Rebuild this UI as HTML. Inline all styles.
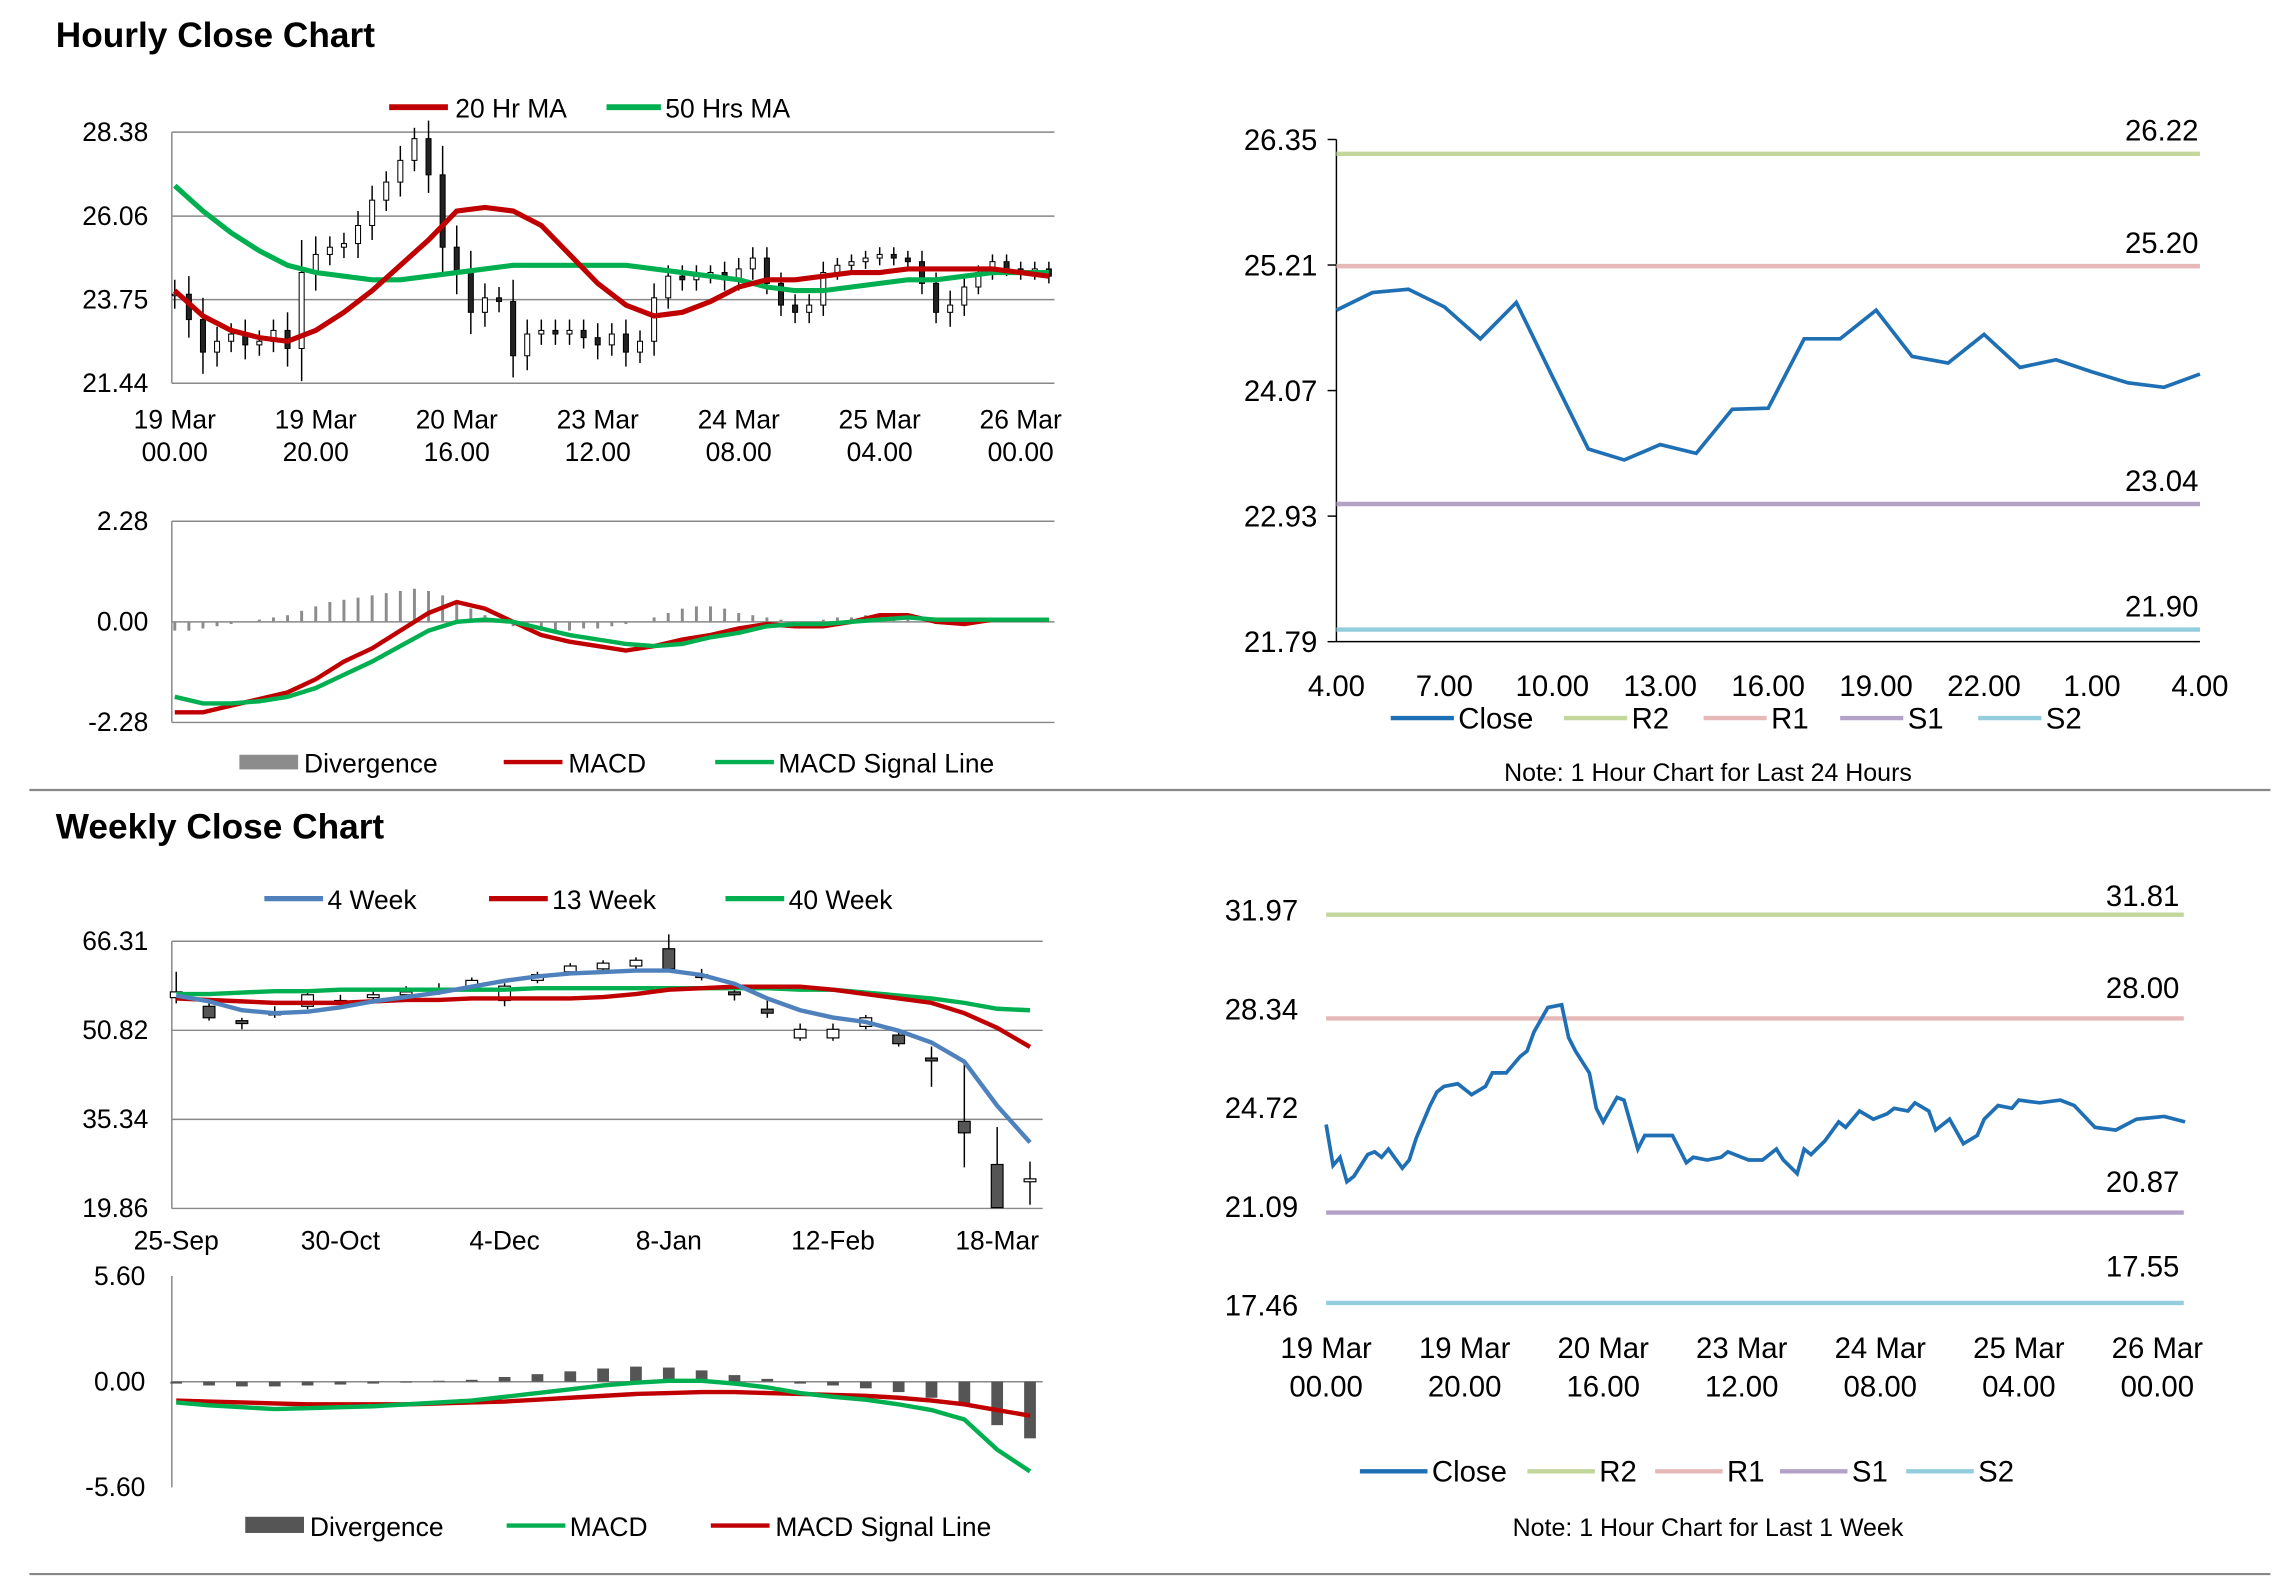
<!DOCTYPE html>
<html><head><meta charset="utf-8"><style>
html,body{margin:0;padding:0;background:#fff}
svg{display:block;font-family:"Liberation Sans",Arial,sans-serif}
text{fill:#000}
</style></head><body>
<svg id="c" width="2291" height="1577" viewBox="0 0 1560 1074" preserveAspectRatio="none">
<text x="38" y="32" font-size="24" font-weight="bold">Hourly Close Chart</text>
<text x="38" y="571" font-size="24" font-weight="bold">Weekly Close Chart</text>
<line x1="20" y1="538" x2="1546" y2="538" stroke="#888" stroke-width="1.5"/>
<line x1="20" y1="1072" x2="1546" y2="1072" stroke="#888" stroke-width="1.5"/>
<g font-size="18">
<line x1="265" y1="73" x2="305" y2="73" stroke="#c00000" stroke-width="4"/><text x="310" y="80">20 Hr MA</text>
<line x1="413" y1="73" x2="450" y2="73" stroke="#00b050" stroke-width="4"/><text x="453" y="80">50 Hrs MA</text>
<rect x="163" y="514" width="40" height="10" fill="#8c8c8c"/><text x="207" y="526">Divergence</text>
<line x1="343" y1="519" x2="383" y2="519" stroke="#c00000" stroke-width="3"/><text x="387" y="526">MACD</text>
<line x1="487" y1="519" x2="527" y2="519" stroke="#00b050" stroke-width="3"/><text x="530" y="526">MACD Signal Line</text>
<line x1="180" y1="612" x2="220" y2="612" stroke="#4f81bd" stroke-width="3.5"/><text x="223" y="619">4 Week</text>
<line x1="333" y1="612" x2="373" y2="612" stroke="#c00000" stroke-width="3.5"/><text x="376" y="619">13 Week</text>
<line x1="494" y1="612" x2="534" y2="612" stroke="#00b050" stroke-width="3.5"/><text x="537" y="619">40 Week</text>
<rect x="167" y="1033" width="40" height="11" fill="#555"/><text x="211" y="1046">Divergence</text>
<line x1="345" y1="1039" x2="385" y2="1039" stroke="#00b050" stroke-width="3"/><text x="388" y="1046">MACD</text>
<line x1="484" y1="1039" x2="524" y2="1039" stroke="#c00000" stroke-width="3"/><text x="528" y="1046">MACD Signal Line</text>
</g>
<g font-size="20">
<line x1="947" y1="489" x2="990" y2="489" stroke="#1f6fb4" stroke-width="3"/><text x="993" y="496">Close</text>
<line x1="1065" y1="489" x2="1108" y2="489" stroke="#c3d69b" stroke-width="3"/><text x="1111" y="496">R2</text>
<line x1="1160" y1="489" x2="1203" y2="489" stroke="#e6b9b8" stroke-width="3"/><text x="1206" y="496">R1</text>
<line x1="1253" y1="489" x2="1296" y2="489" stroke="#b3a2c7" stroke-width="3"/><text x="1299" y="496">S1</text>
<line x1="1347" y1="489" x2="1390" y2="489" stroke="#93cddd" stroke-width="3"/><text x="1393" y="496">S2</text>
<text x="1163" y="532" font-size="17" text-anchor="middle">Note: 1 Hour Chart for Last 24 Hours</text>
<line x1="926" y1="1002" x2="972" y2="1002" stroke="#1f6fb4" stroke-width="3"/><text x="975" y="1009">Close</text>
<line x1="1040" y1="1002" x2="1086" y2="1002" stroke="#c3d69b" stroke-width="3"/><text x="1089" y="1009">R2</text>
<line x1="1127" y1="1002" x2="1173" y2="1002" stroke="#e6b9b8" stroke-width="3"/><text x="1176" y="1009">R1</text>
<line x1="1212" y1="1002" x2="1258" y2="1002" stroke="#b3a2c7" stroke-width="3"/><text x="1261" y="1009">S1</text>
<line x1="1298" y1="1002" x2="1344" y2="1002" stroke="#93cddd" stroke-width="3"/><text x="1347" y="1009">S2</text>
<text x="1163" y="1046" font-size="17" text-anchor="middle">Note: 1 Hour Chart for Last 1 Week</text>
</g>
</svg>
<script>
// ---------- Hourly candle chart data (every 2 hours, hour 0..124) ----------
const hCloses=[23.9,23.2,22.3,22.6,22.8,22.5,22.6,22.9,22.4,24.5,25.0,25.2,25.3,25.8,26.5,27.0,27.6,28.2,27.2,25.2,24.5,23.4,23.8,23.7,22.2,22.8,22.9,22.8,22.9,22.7,22.5,22.8,22.3,22.6,23.8,24.4,24.3,24.4,24.5,24.3,24.6,24.9,24.2,23.6,23.4,23.6,24.5,24.7,24.8,24.9,25.0,24.9,24.8,24.2,23.4,23.6,24.1,24.5,24.8,24.6,24.5,24.6,24.4];
const hWicks=[0.4,0.5,0.6,0.4,0.3,0.4,0.3,0.3,0.5,0.9,0.5,0.3,0.3,0.4,0.4,0.3,0.4,0.3,0.5,0.8,0.6,0.6,0.4,0.3,0.6,0.4,0.3,0.3,0.3,0.3,0.4,0.3,0.4,0.3,0.4,0.3,0.3,0.3,0.2,0.3,0.3,0.3,0.3,0.3,0.3,0.3,0.3,0.2,0.2,0.2,0.2,0.2,0.2,0.3,0.3,0.4,0.3,0.2,0.2,0.2,0.2,0.2,0.2];
const hMaHours=[0,4,8,12,16,20,24,28,32,36,40,44,48,52,56,60,64,68,72,76,80,84,88,92,96,100,104,108,112,116,120,124];
const hMa20=[24.0,23.3,22.9,22.7,22.6,22.9,23.4,24.0,24.7,25.4,26.2,26.3,26.2,25.8,25.0,24.2,23.6,23.3,23.4,23.7,24.1,24.3,24.3,24.4,24.5,24.5,24.6,24.6,24.6,24.6,24.5,24.4];
const hMa50=[26.9,26.2,25.6,25.1,24.7,24.5,24.4,24.3,24.3,24.4,24.5,24.6,24.7,24.7,24.7,24.7,24.7,24.6,24.5,24.4,24.3,24.1,24.0,24.0,24.1,24.2,24.3,24.3,24.4,24.5,24.5,24.5];
const hYTicks=[28.38,26.06,23.75,21.44];
const hXTickHours=[0,20,40,60,80,100,120];
const hXTickLabels=[["19 Mar","00.00"],["19 Mar","20.00"],["20 Mar","16.00"],["23 Mar","12.00"],["24 Mar","08.00"],["25 Mar","04.00"],["26 Mar","00.00"]];
// hourly MACD
const hMacd=[-2.05,-2.05,-1.9,-1.75,-1.6,-1.3,-0.9,-0.6,-0.2,0.2,0.45,0.3,0.0,-0.3,-0.45,-0.55,-0.65,-0.55,-0.4,-0.3,-0.15,-0.05,-0.1,-0.1,0.0,0.15,0.15,0.0,-0.05,0.05,0.05,0.05];
const hSignal=[-1.7,-1.85,-1.85,-1.8,-1.7,-1.5,-1.2,-0.9,-0.55,-0.2,0.0,0.05,0.0,-0.15,-0.3,-0.4,-0.5,-0.55,-0.5,-0.35,-0.25,-0.1,-0.05,-0.05,0.0,0.05,0.1,0.05,0.05,0.05,0.05,0.05];
const hDiv=[-0.2,-0.2,-0.15,-0.1,-0.05,0,0.05,0.1,0.15,0.25,0.35,0.45,0.5,0.55,0.6,0.65,0.7,0.75,0.7,0.6,0.45,0.3,0.15,0.0,-0.1,-0.15,-0.2,-0.2,-0.2,-0.15,-0.15,-0.1,-0.05,0.0,0.1,0.2,0.3,0.35,0.35,0.3,0.2,0.15,0.1,0.05,-0.05,0,0.05,0.1,0.1,0.15,0.15,0.1,0.05,0.0,-0.05,-0.05,0,0,0,0,0,0,0];
const hMacdTicks=[2.28,0.00,-2.28];
// ---------- Last 24 hours ----------
const d24Close=[24.80,24.96,24.99,24.83,24.54,24.87,24.20,23.54,23.44,23.58,23.50,23.90,23.91,24.54,24.54,24.80,24.38,24.32,24.58,24.28,24.35,24.24,24.14,24.10,24.22];
const d24Ticks=["4.00","7.00","10.00","13.00","16.00","19.00","22.00","1.00","4.00"];
const d24YTicks=[26.35,25.21,24.07,22.93,21.79];
const d24Levels=[26.22,25.20,23.04,21.90];
// ---------- Weekly ----------
const wLabels=["25-Sep","30-Oct","4-Dec","8-Jan","12-Feb","18-Mar"];
const wLabelWeeks=[0,5,10,15,20,25];
const wOpen=[56.5,55,52.5,53.5,55,55.5,56.5,57,57.5,58.5,56,59.5,61,61.5,62,65,60.5,57.5,54.5,49.5,49.5,51.5,50,46,35,27.5,24.5];
const wClose=[57.5,53,52,54,57,56,57,57.5,58,59.5,58.5,60.5,62,62.5,63,61.5,60,57,53.8,51,51,53,48.5,45.5,33,20,25];
const wHigh=[61,56,53,55,57.5,57,58,58.5,59,60,59,61,62.5,63,63.5,67.5,61.5,59,56,52,52,53.5,51,48,45,34,28];
const wLow=[55.5,52.5,51,53,54.5,55,56,56.5,57,58,55,59,60.5,61,61.5,61,59.5,56,53,49,49,51,48,41,27,20,20.5];
const w4=[56.87,55.85,54.31,53.80,54.06,54.82,55.85,56.61,57.38,58.40,59.42,60.18,60.70,60.95,61.21,61.21,60.44,58.91,56.36,54.31,53.04,52.27,50.74,48.70,45.38,37.72,31.33];
const w13=[56.36,56.10,55.85,55.59,55.59,55.59,55.85,56.10,56.10,56.36,56.36,56.36,56.36,56.61,57.12,57.89,58.14,58.40,58.40,58.40,57.89,57.12,56.36,55.59,53.80,51.25,47.93];
const w40=[57.12,57.12,57.38,57.63,57.63,57.89,57.89,57.89,57.89,57.89,57.89,58.14,58.14,58.14,58.14,58.14,58.14,58.14,58.14,57.89,57.89,57.38,56.87,56.36,55.59,54.57,54.31];
const wYTicks=[66.31,50.82,35.34,19.86];
const wDiv=[-0.1,-0.2,-0.25,-0.25,-0.2,-0.15,-0.1,-0.05,0.05,0.1,0.25,0.4,0.55,0.7,0.8,0.75,0.6,0.35,0.15,-0.1,-0.2,-0.35,-0.55,-0.85,-1.2,-2.3,-3.0];
const wMacd=[-1.1,-1.25,-1.35,-1.45,-1.4,-1.35,-1.3,-1.2,-1.1,-1.0,-0.8,-0.6,-0.4,-0.2,-0.05,0.05,0.05,-0.1,-0.3,-0.6,-0.8,-0.95,-1.2,-1.5,-2.0,-3.6,-4.75];
const wSignal=[-1.0,-1.05,-1.1,-1.15,-1.2,-1.2,-1.2,-1.2,-1.15,-1.1,-1.05,-0.95,-0.85,-0.75,-0.65,-0.6,-0.55,-0.55,-0.6,-0.65,-0.7,-0.75,-0.85,-1.0,-1.2,-1.5,-1.8];
const wMacdTicks=[5.60,0.00,-5.60];
// ---------- Last 1 week ----------
const d1wHours=[0,1,2,3,4,6,7,8,9,11,12,13,15,16,17,19,21,23,24,26,28,29,30,32,34,35,36,38,39,40,42,43,45,46,48,50,52,53,55,57,58,60,61,63,65,66,68,69,70,72,74,75,77,79,81,82,84,85,87,88,90,92,94,95,97,99,100,103,106,108,111,114,117,121,124];
const d1wClose=[24.1,22.6,22.9,22.0,22.2,23.0,23.1,22.9,23.2,22.5,22.8,23.6,24.8,25.3,25.5,25.6,25.2,25.5,26.0,26.0,26.6,26.8,27.5,28.4,28.5,27.3,26.8,26.0,24.7,24.2,25.1,25.0,23.2,23.7,23.7,23.7,22.7,22.9,22.8,22.9,23.1,22.9,22.8,22.8,23.2,22.8,22.3,23.2,23.0,23.5,24.2,24.0,24.6,24.3,24.5,24.7,24.6,24.9,24.6,23.9,24.3,23.4,23.7,24.3,24.8,24.7,25.0,24.9,25.0,24.8,24.0,23.9,24.3,24.4,24.2];
const d1wYTicks=[31.97,28.34,24.72,21.09,17.46];
const d1wLevels=[31.81,28.00,20.87,17.55];
const d1wXTickHours=[0,20,40,60,80,100,120];
const levelColors=["#c3d69b","#e6b9b8","#b3a2c7","#93cddd"];

const svg=document.getElementById('c');
const NS='http://www.w3.org/2000/svg';
function mk(tag,attrs,parent){const e=document.createElementNS(NS,tag);for(const k in attrs)e.setAttribute(k,attrs[k]);(parent||svg).appendChild(e);return e;}
function lin(d0,d1,r0,r1){return v=>r0+(v-d0)*(r1-r0)/(d1-d0);}
function pathOf(xs,ys){return xs.map((x,i)=>(i?'L':'M')+x.toFixed(2)+','+ys[i].toFixed(2)).join('');}

// ===== Panel 1: hourly candles =====
{
const x=lin(0,120,119,695), y=lin(28.38,21.44,90,261);
const g=mk('g',{});


hYTicks.forEach(t=>{
  const l=mk('line',{x1:117,x2:718,y1:y(t),y2:y(t),stroke:'#888','stroke-width':1},g);
  
  
  const tx=mk('text',{x:101,y:y(t)+6,'text-anchor':'end','font-size':18},g);tx.textContent=t.toFixed(2);
  
  
});
mk('line',{x1:117,x2:117,y1:90,y2:261,stroke:'#888'},g);
hXTickHours.forEach((h,i)=>{
  const t1=mk('text',{x:x(h),y:292,'text-anchor':'middle','font-size':18},g);t1.textContent=hXTickLabels[i][0];
  
  
  const t2=mk('text',{x:x(h),y:314,'text-anchor':'middle','font-size':18},g);t2.textContent=hXTickLabels[i][1];
  
  
});
hCloses.forEach((c,i)=>{
  const o=i?hCloses[i-1]:c, cx=x(i*2);
  const hi=Math.max(o,c)+hWicks[i], lo=Math.min(o,c)-hWicks[i];
  const w=mk('line',{x1:cx,x2:cx,y1:y(hi),y2:y(lo),stroke:'#000','stroke-width':1},g);
  
  
  const top=y(Math.max(o,c)),bot=y(Math.min(o,c));
  const r=mk('rect',{x:cx-1.7,y:top,width:3.4,height:Math.max(1,bot-top),fill:c<o?'#222':'#fff',stroke:'#000','stroke-width':0.7},g);
  
  
});
const m50=mk('path',{d:pathOf(hMaHours.map(x),hMa50.map(y)),fill:'none',stroke:'#00b050','stroke-width':3.5},g);


const m20=mk('path',{d:pathOf(hMaHours.map(x),hMa20.map(y)),fill:'none',stroke:'#c00000','stroke-width':3.5},g);


}
// ===== Panel 1b: hourly MACD =====
{
const x=lin(0,120,119,695), y=lin(2.28,-2.28,355,492);
const g=mk('g',{});


hMacdTicks.forEach(t=>{
  const l=mk('line',{x1:117,x2:718,y1:y(t),y2:y(t),stroke:'#888','stroke-width':1},g);
  
  
  const tx=mk('text',{x:101,y:y(t)+6,'text-anchor':'end','font-size':18},g);tx.textContent=t.toFixed(2);
  
  
});
mk('line',{x1:117,x2:117,y1:355,y2:492,stroke:'#888'},g);
hDiv.forEach((d,i)=>{
  const b=mk('rect',{x:x(i*2)-1,y:Math.min(y(d),y(0)),width:2,height:Math.abs(y(d)-y(0)),fill:'#8c8c8c'},g);
  
  
});
const r=mk('path',{d:pathOf(hMaHours.map(x),hMacd.map(y)),fill:'none',stroke:'#c00000','stroke-width':3},g);


const s=mk('path',{d:pathOf(hMaHours.map(x),hSignal.map(y)),fill:'none',stroke:'#00b050','stroke-width':3},g);


}
// ===== Panel 2: last 24 hours =====
{
const x=lin(0,24,910,1498), y=lin(26.35,21.79,95,437);
const g=mk('g',{});


d24YTicks.forEach(t=>{
  const tx=mk('text',{x:897,y:y(t)+7,'text-anchor':'end','font-size':20},g);tx.textContent=t.toFixed(2);
  
  
  mk('line',{x1:904,x2:910,y1:y(t),y2:y(t),stroke:'#000'},g);
});
mk('line',{x1:910,x2:910,y1:95,y2:437,stroke:'#000'},g);
mk('line',{x1:910,x2:1498,y1:437,y2:437,stroke:'#000'},g);
d24Ticks.forEach((t,i)=>{
  const tx=mk('text',{x:x(i*3),y:474,'text-anchor':'middle','font-size':20},g);tx.textContent=t;
  
  
});
d24Levels.forEach((v,i)=>{
  const l=mk('line',{x1:910,x2:1498,y1:y(v),y2:y(v),stroke:levelColors[i],'stroke-width':3},g);
  
  
  const tx=mk('text',{x:1497,y:y(v)-9,'text-anchor':'end','font-size':20},g);tx.textContent=v.toFixed(2);
  
  
});
const p=mk('path',{d:pathOf(d24Close.map((_,i)=>x(i)),d24Close.map(y)),fill:'none',stroke:'#1f6fb4','stroke-width':2.5},g);


}
// ===== Panel 3: weekly candles =====
{
const x=lin(0,25,120,679), y=lin(66.31,19.86,641,823);
const g=mk('g',{});


wYTicks.forEach(t=>{
  const l=mk('line',{x1:117,x2:710,y1:y(t),y2:y(t),stroke:'#888','stroke-width':1},g);
  
  
  const tx=mk('text',{x:101,y:y(t)+6,'text-anchor':'end','font-size':18},g);tx.textContent=t.toFixed(2);
  
  
});
mk('line',{x1:117,x2:117,y1:641,y2:823,stroke:'#888'},g);
wLabels.forEach((l,i)=>{
  const tx=mk('text',{x:x(wLabelWeeks[i]),y:851,'text-anchor':'middle','font-size':18},g);tx.textContent=l;
  
  
});
wOpen.forEach((o,i)=>{
  const c=wClose[i],cx=x(i);
  const w=mk('line',{x1:cx,x2:cx,y1:y(wHigh[i]),y2:y(wLow[i]),stroke:'#000','stroke-width':1},g);
  
  
  const top=y(Math.max(o,c)),bot=y(Math.min(o,c));
  const r=mk('rect',{x:cx-4,y:top,width:8,height:Math.max(1.2,bot-top),fill:c<o?'#555':'#fff',stroke:'#000','stroke-width':0.8},g);
  
  
});
const xs=wOpen.map((_,i)=>x(i));
const a=mk('path',{d:pathOf(xs,w40.map(y)),fill:'none',stroke:'#00b050','stroke-width':3},g);


const b=mk('path',{d:pathOf(xs,w13.map(y)),fill:'none',stroke:'#c00000','stroke-width':3},g);


const c=mk('path',{d:pathOf(xs,w4.map(y)),fill:'none',stroke:'#4f81bd','stroke-width':3},g);


}
// ===== Panel 3b: weekly MACD =====
{
const x=lin(0,25,120,679), y=lin(5.6,-5.6,869,1013);
const g=mk('g',{});


wMacdTicks.forEach(t=>{
  const tx=mk('text',{x:99,y:y(t)+6,'text-anchor':'end','font-size':18},g);tx.textContent=t.toFixed(2);
  
  
});
mk('line',{x1:117,x2:117,y1:869,y2:1013,stroke:'#888'},g);
mk('line',{x1:117,x2:710,y1:y(0),y2:y(0),stroke:'#888'},g);
wDiv.forEach((d,i)=>{
  const b=mk('rect',{x:x(i)-4,y:Math.min(y(d),y(0)),width:8,height:Math.abs(y(d)-y(0)),fill:'#555'},g);
  
  
});
const xs=wDiv.map((_,i)=>x(i));
const s=mk('path',{d:pathOf(xs,wSignal.map(y)),fill:'none',stroke:'#c00000','stroke-width':3},g);


const m=mk('path',{d:pathOf(xs,wMacd.map(y)),fill:'none',stroke:'#00b050','stroke-width':3},g);


}
// ===== Panel 4: last 1 week =====
{
const x=lin(0,120,903,1469), y=lin(31.97,17.46,620,889);
const g=mk('g',{});


d1wYTicks.forEach(t=>{
  const tx=mk('text',{x:884,y:y(t)+7,'text-anchor':'end','font-size':20},g);tx.textContent=t.toFixed(2);
  
  
});
hXTickLabels.forEach((l,i)=>{
  const t1=mk('text',{x:x(d1wXTickHours[i]),y:925,'text-anchor':'middle','font-size':20},g);t1.textContent=l[0];
  
  
  const t2=mk('text',{x:x(d1wXTickHours[i]),y:951,'text-anchor':'middle','font-size':20},g);t2.textContent=l[1];
  
  
});
const labelOff=[-6,-14,-14,-18];
d1wLevels.forEach((v,i)=>{
  const l=mk('line',{x1:903,x2:1487,y1:y(v),y2:y(v),stroke:levelColors[i],'stroke-width':3},g);
  
  
  const tx=mk('text',{x:1484,y:y(v)+labelOff[i],'text-anchor':'end','font-size':20},g);tx.textContent=v.toFixed(2);
  
  
});
const p=mk('path',{d:pathOf(d1wHours.map(x),d1wClose.map(y)),fill:'none',stroke:'#1f6fb4','stroke-width':2.5},g);


}
</script>
</body></html>
